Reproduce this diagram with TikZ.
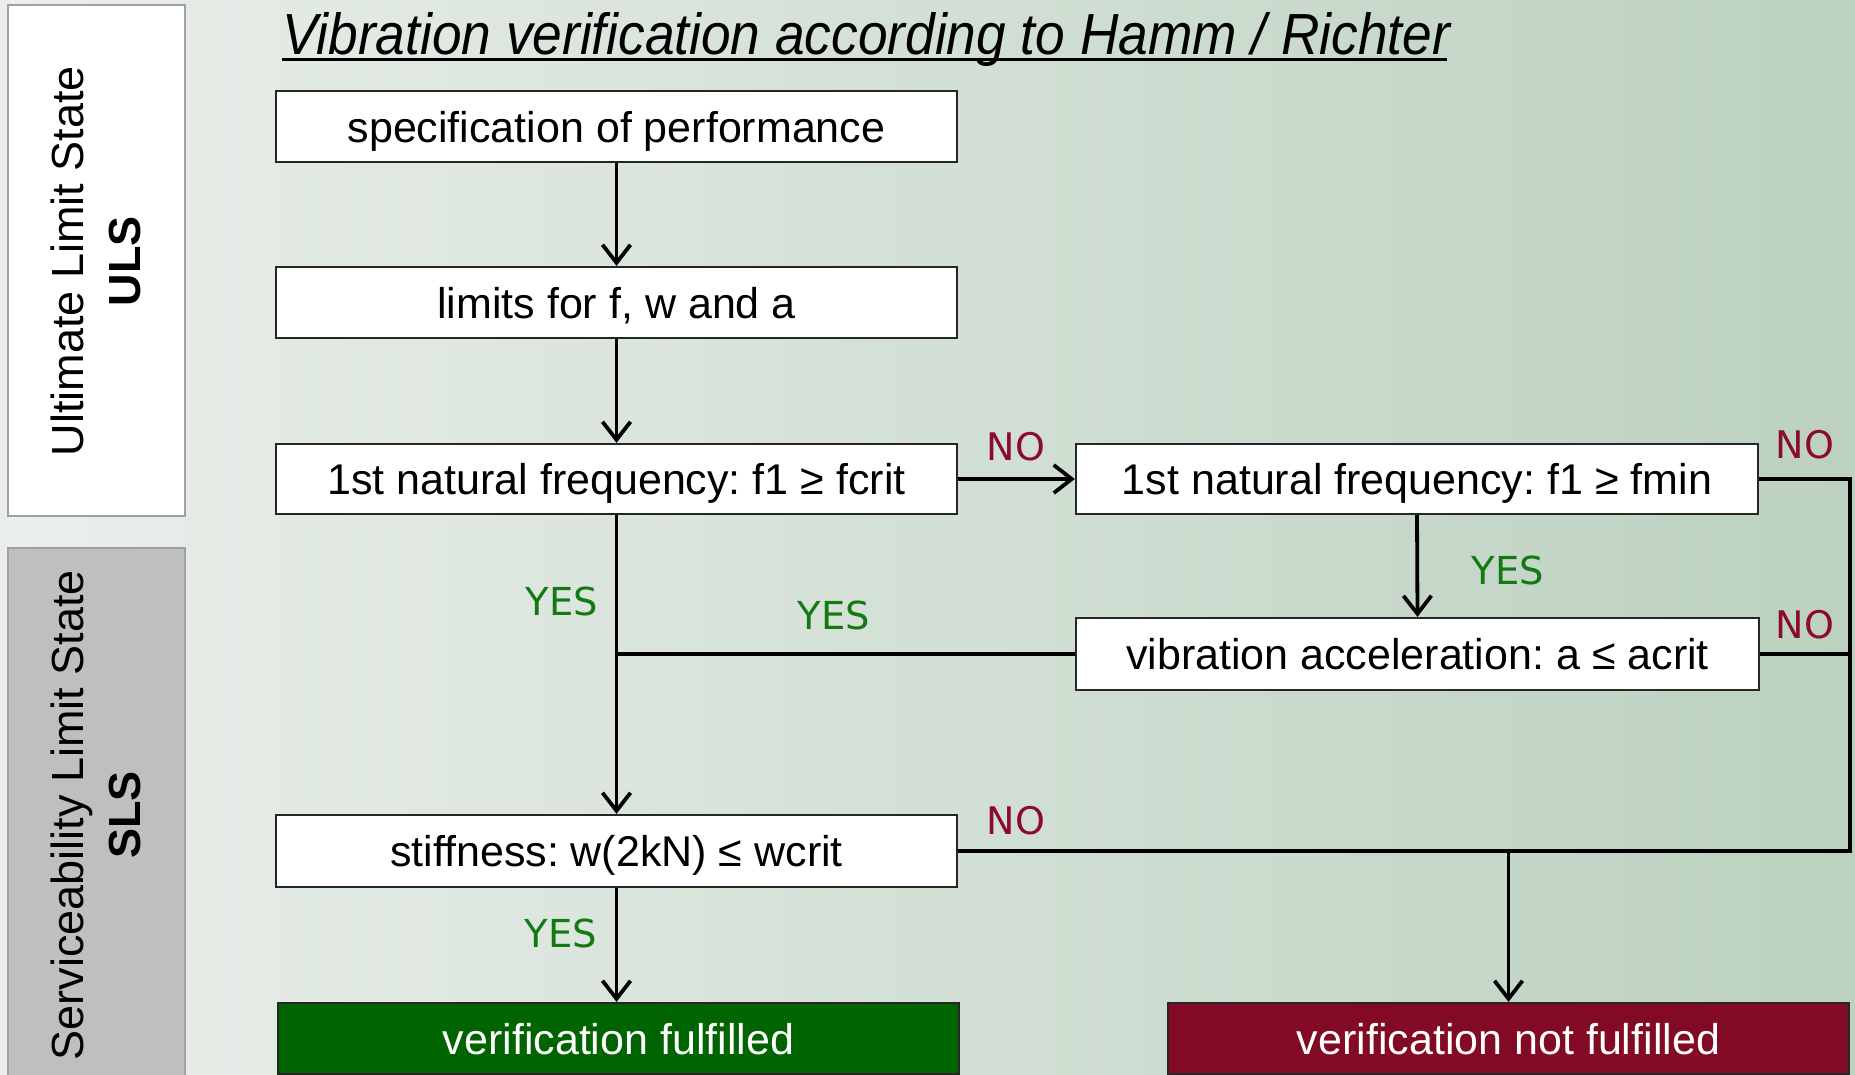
\documentclass[tikz,border=0pt]{standalone}
\usepackage{fontspec}
\setmainfont{Liberation Sans}
\newfontfamily\lblfont{DejaVu Sans}
\usetikzlibrary{arrows.meta}
\frenchspacing
\definecolor{bgL}{HTML}{EAEFEB}
\definecolor{bgR}{HTML}{BCD1C0}
\definecolor{panelgray}{HTML}{BFBFBF}
\definecolor{panelline}{HTML}{A0A0A0}
\definecolor{okgreen}{HTML}{006400}
\definecolor{failred}{HTML}{820A25}
\definecolor{yesgreen}{HTML}{137A13}
\definecolor{nored}{HTML}{8C0A2D}
\tikzset{
  flowbox/.style={draw=black!85, line width=2.3pt, fill=white, minimum width=681pt, minimum height=71pt, inner sep=0pt, text height=31pt, text depth=0pt, font=\fontsize{43}{50}\selectfont},
  resultbox/.style={draw=black!85, line width=2.3pt, minimum width=681pt, minimum height=71pt, inner sep=0pt, text height=31pt, text depth=0pt, text=white, font=\fontsize{43}{50}\selectfont},
  conn/.style={line width=3.8pt, black},
  arr/.style={conn, -{Straight Barb[length=18pt,width=28pt,line width=3.8pt]}},
  yeslbl/.style={text=yesgreen, font=\lblfont\fontsize{38.5}{44}\selectfont, inner sep=0pt},
  nolbl/.style={text=nored, font=\lblfont\fontsize{38}{44}\selectfont, inner sep=0pt},
  sidetxt/.style={rotate=90, align=center, font=\fontsize{45}{57}\selectfont, inner sep=0pt}
}
\begin{document}
\begin{tikzpicture}[x=1pt, y=-1pt]
\useasboundingbox (0,0) rectangle (1855,1074);
\shade[left color=bgL, right color=bgR] (0,0) rectangle (1855,1074);

% side panels
\draw[fill=white, draw=panelline, line width=1.2pt] (8,5) rectangle (185,516);
\node[sidetxt] (uls) at (96,261) {Ultimate Limit State\\\textbf{ULS}};
\draw[fill=panelgray, draw=panelline, line width=1.2pt] (8,548) rectangle (185,1080);
\node[sidetxt] (sls) at (96,815) {Serviceability Limit State\\\textbf{SLS}};

% title
\node[font=\itshape\fontsize{58}{64}\selectfont, inner sep=0pt, anchor=base west] (title) at (282,54) {\scalebox{0.918}[1]{Vibration verification according to Hamm / Richter}};
\draw[line width=3pt] (282,59) -- (1447,59);

% boxes
\node[flowbox] (b1) at (616.5,126.5) {specification of performance};
\node[flowbox] (b2) at (616.5,302.5) {limits for f, w and a};
\node[flowbox, minimum height=70pt] (b3) at (616.5,479) {1st natural frequency: f1 ≥ fcrit};
\node[flowbox, minimum width=682pt, minimum height=70pt] (b4) at (1417,479) {1st natural frequency: f1 ≥ fmin};
\node[flowbox, minimum width=683pt, minimum height=72pt] (b5) at (1417.5,654) {vibration acceleration: a ≤ acrit};
\node[flowbox, minimum height=72pt] (b6) at (616.5,851) {stiffness: w(2kN) ≤ wcrit};
\node[resultbox, fill=okgreen] (ok) at (618.5,1038.5) {verification fulfilled};
\node[resultbox, fill=failred] (fail) at (1508.5,1038.5) {verification not fulfilled};

\coordinate (rx) at (1850,0);

% connectors
\draw[arr] (b1.south) -- (b2.north);
\draw[arr] (b2.south) -- (b3.north);
\draw[arr] (b3.south) -- (b6.north);
\draw[conn] (b5.west) -- (b5.west -| b3.south);
\draw[arr] (b3.east) -- (b4.west);
\draw[arr] (b4.south) -- (b5.north);
\draw[conn] (b4.east) -- (b4.east -| rx) |- (b6.east);
\draw[conn] (b5.east) -- (b5.east -| rx);
\draw[arr] (b6.east -| fail.north) -- (fail.north);
\draw[arr] (b6.south) -- (b6.south |- ok.north);

% labels
\node[nolbl] (no1) at (1016,447) {NO};
\node[nolbl] (no2) at (1805,445) {NO};
\node[nolbl] (no3) at (1805,625) {NO};
\node[nolbl] (no4) at (1016,821) {NO};
\node[yeslbl] (yes1) at (562,601) {YES};
\node[yeslbl] (yes2) at (834,615) {YES};
\node[yeslbl] (yes3) at (1508,570) {YES};
\node[yeslbl] (yes4) at (561,933) {YES};
\end{tikzpicture}
\end{document}
